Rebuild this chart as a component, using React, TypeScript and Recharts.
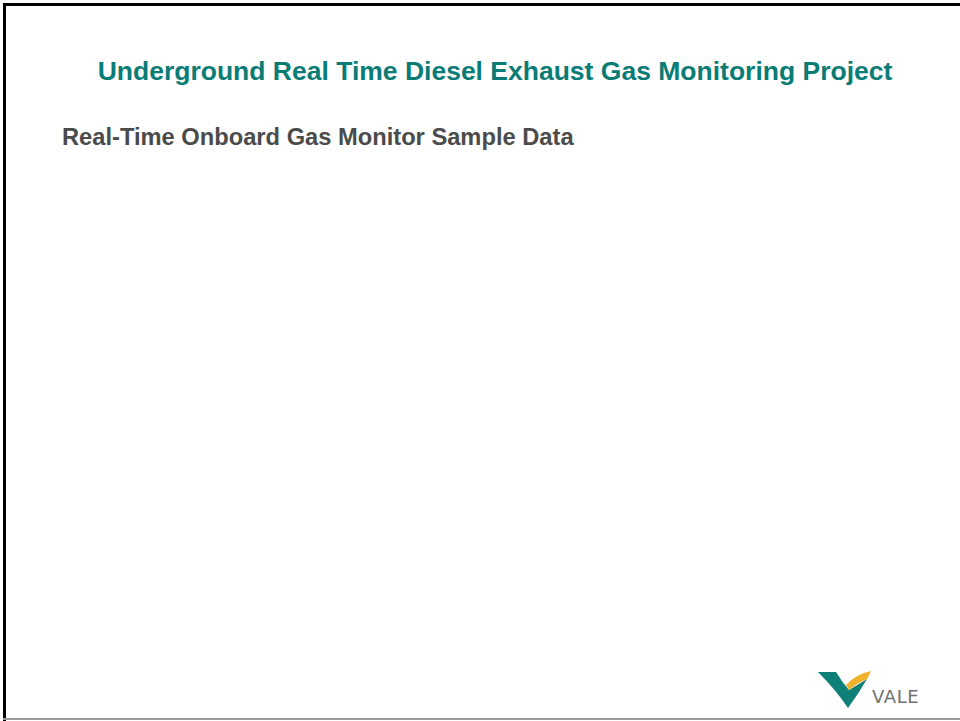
import React from 'react';
import { ComposedChart, XAxis, YAxis, Line } from 'recharts';

// The slide shows only its headings; the chart area itself is blank.
const titleText = 'Underground Real Time Diesel Exhaust Gas Monitoring Project';
const subtitleText = 'Real-Time Onboard Gas Monitor Sample Data';
const logoText = 'VALE';

const samples: Array<{ t: string; value: number | null }> = [];

export default function App() {
  return (
    <div
      style={{
        position: 'fixed',
        left: 0,
        top: 0,
        width: 960,
        height: 721,
        background: '#fff',
        overflow: 'hidden',
        fontFamily: '"Liberation Sans", Arial, sans-serif',
      }}
    >
      {/* slide frame */}
      <div style={{ position: 'absolute', left: 3, top: 3, width: 960, height: 3, background: '#000' }} />
      <div style={{ position: 'absolute', left: 3, top: 3, width: 3, height: 718, background: '#000' }} />
      <div style={{ position: 'absolute', left: 3, top: 718, width: 960, height: 2, background: '#9a9a9a' }} />

      <div
        style={{
          position: 'absolute',
          left: 0,
          width: 990,
          top: 56,
          textAlign: 'center',
          fontSize: 26.5,
          fontWeight: 'bold',
          color: '#0a7c76',
          lineHeight: '30px',
          whiteSpace: 'nowrap',
        }}
      >
        {titleText}
      </div>
      <div
        style={{
          position: 'absolute',
          left: 62,
          top: 124,
          fontSize: 23.7,
          fontWeight: 'bold',
          color: '#4b4b4b',
          lineHeight: '27px',
          whiteSpace: 'nowrap',
        }}
      >
        {subtitleText}
      </div>

      <div style={{ position: 'absolute', left: 62, top: 170 }}>
        <ComposedChart width={840} height={460} data={samples} margin={{ top: 0, right: 0, bottom: 0, left: 0 }}>
          <XAxis dataKey="t" hide />
          <YAxis hide />
          <Line dataKey="value" stroke="#0b7f79" dot={false} isAnimationActive={false} />
        </ComposedChart>
      </div>

      {/* Vale logo */}
      <svg style={{ position: 'absolute', left: 0, top: 0 }} width={960} height={721}>
        <path d="M818,672 L836,672 Q842,682 849,690 L867,679 Q859,693 848,708 Q836,690 818,672 Z" fill="#0f8078" />
        <path d="M846,685 Q856,674 871,671 Q869,676 867,679 Q857,683 849,690 Z" fill="#efb22a" />
        <text x={872} y={703} fontSize={18} fill="#707070" fontFamily='"DejaVu Sans", sans-serif' letterSpacing={0.6}>
          {logoText}
        </text>
      </svg>
    </div>
  );
}
